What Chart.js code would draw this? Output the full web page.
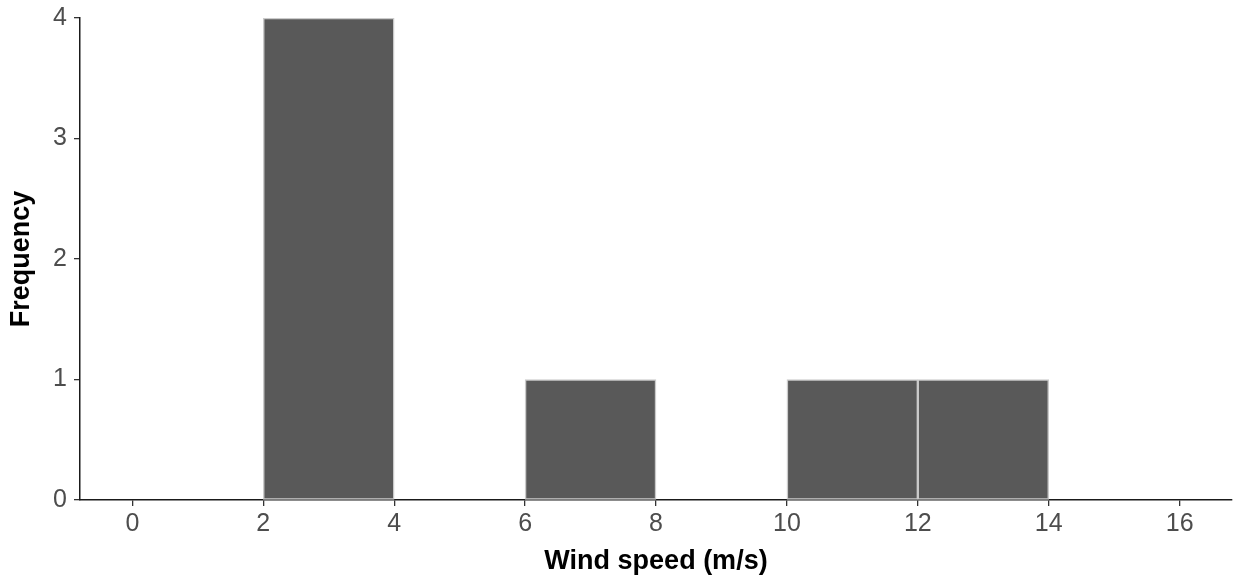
<!DOCTYPE html>
<html>
<head>
<meta charset="utf-8">
<script src="https://cdn.jsdelivr.net/npm/chart.js@4/dist/chart.umd.min.js"></script>
<style>
html,body{margin:0;padding:0;background:#fff;}
#wrap{width:1235px;height:578px;position:relative;}
</style>
</head>
<body>
<div id="wrap"><canvas id="c" width="1235" height="578"></canvas></div>
<script>
const binStarts = [0, 2, 4, 6, 8, 10, 12, 14];
const binWidth = 2;
const counts = [0, 4, 0, 1, 0, 1, 1, 0];
const xTicks = [0, 2, 4, 6, 8, 10, 12, 14, 16];
const yTicks = [0, 1, 2, 3, 4];
const xTitle = 'Wind speed (m/s)';
const yTitle = 'Frequency';

const data = binStarts.map((s, i) => ({x: s + binWidth / 2, y: counts[i] === 0 ? null : counts[i]}));

new Chart(document.getElementById('c'), {
  type: 'bar',
  data: {
    datasets: [{
      data: data,
      backgroundColor: '#595959',
      borderColor: '#cbcbcb',
      borderWidth: 1.5,
      borderSkipped: false,
      categoryPercentage: 1.0,
      barPercentage: 1.0
    }]
  },
  options: {
    responsive: false,
    animation: false,
    layout: {padding: {top: 18, right: 3, left: 0, bottom: 0}},
    plugins: {legend: {display: false}, tooltip: {enabled: false}},
    scales: {
      x: {
        type: 'linear',
        offset: false,
        min: -0.8,
        max: 16.8,
        afterBuildTicks: (s) => { s.ticks = xTicks.map(v => ({value: v})); },
        afterFit: (s) => { s.height = 78; s.paddingLeft = 0; s.paddingRight = 0; },
        ticks: {
          includeBounds: false,
          color: '#4d4d4d',
          font: {family: 'Liberation Sans', size: 25},
          padding: 3,
          maxRotation: 0,
          autoSkip: false
        },
        grid: {display: true, offset: false, drawOnChartArea: false, drawTicks: true, tickLength: 6, color: '#333333', lineWidth: 1.3},
        border: {display: true, color: '#1a1a1a', width: 1.5},
        title: {display: true, text: xTitle, color: '#000', font: {family: 'Liberation Sans', size: 27, weight: 'bold'}, padding: {top: 5, bottom: 0}}
      },
      y: {
        type: 'linear',
        min: 0,
        max: 4,
        afterBuildTicks: (s) => { s.ticks = yTicks.map(v => ({value: v})); },
        afterFit: (s) => { s.width = 80; s.paddingTop = 0; s.paddingBottom = 0; },
        ticks: {
          color: '#4d4d4d',
          font: {family: 'Liberation Sans', size: 25},
          padding: 7
        },
        grid: {display: true, drawOnChartArea: false, drawTicks: true, tickLength: 6, color: '#333333', lineWidth: 1.3},
        border: {display: true, color: '#1a1a1a', width: 1.5},
        title: {display: true, text: yTitle, color: '#000', font: {family: 'Liberation Sans', size: 27, weight: 'bold'}, padding: {top: 5, bottom: 0}}
      }
    }
  }
});
</script>
</body>
</html>
